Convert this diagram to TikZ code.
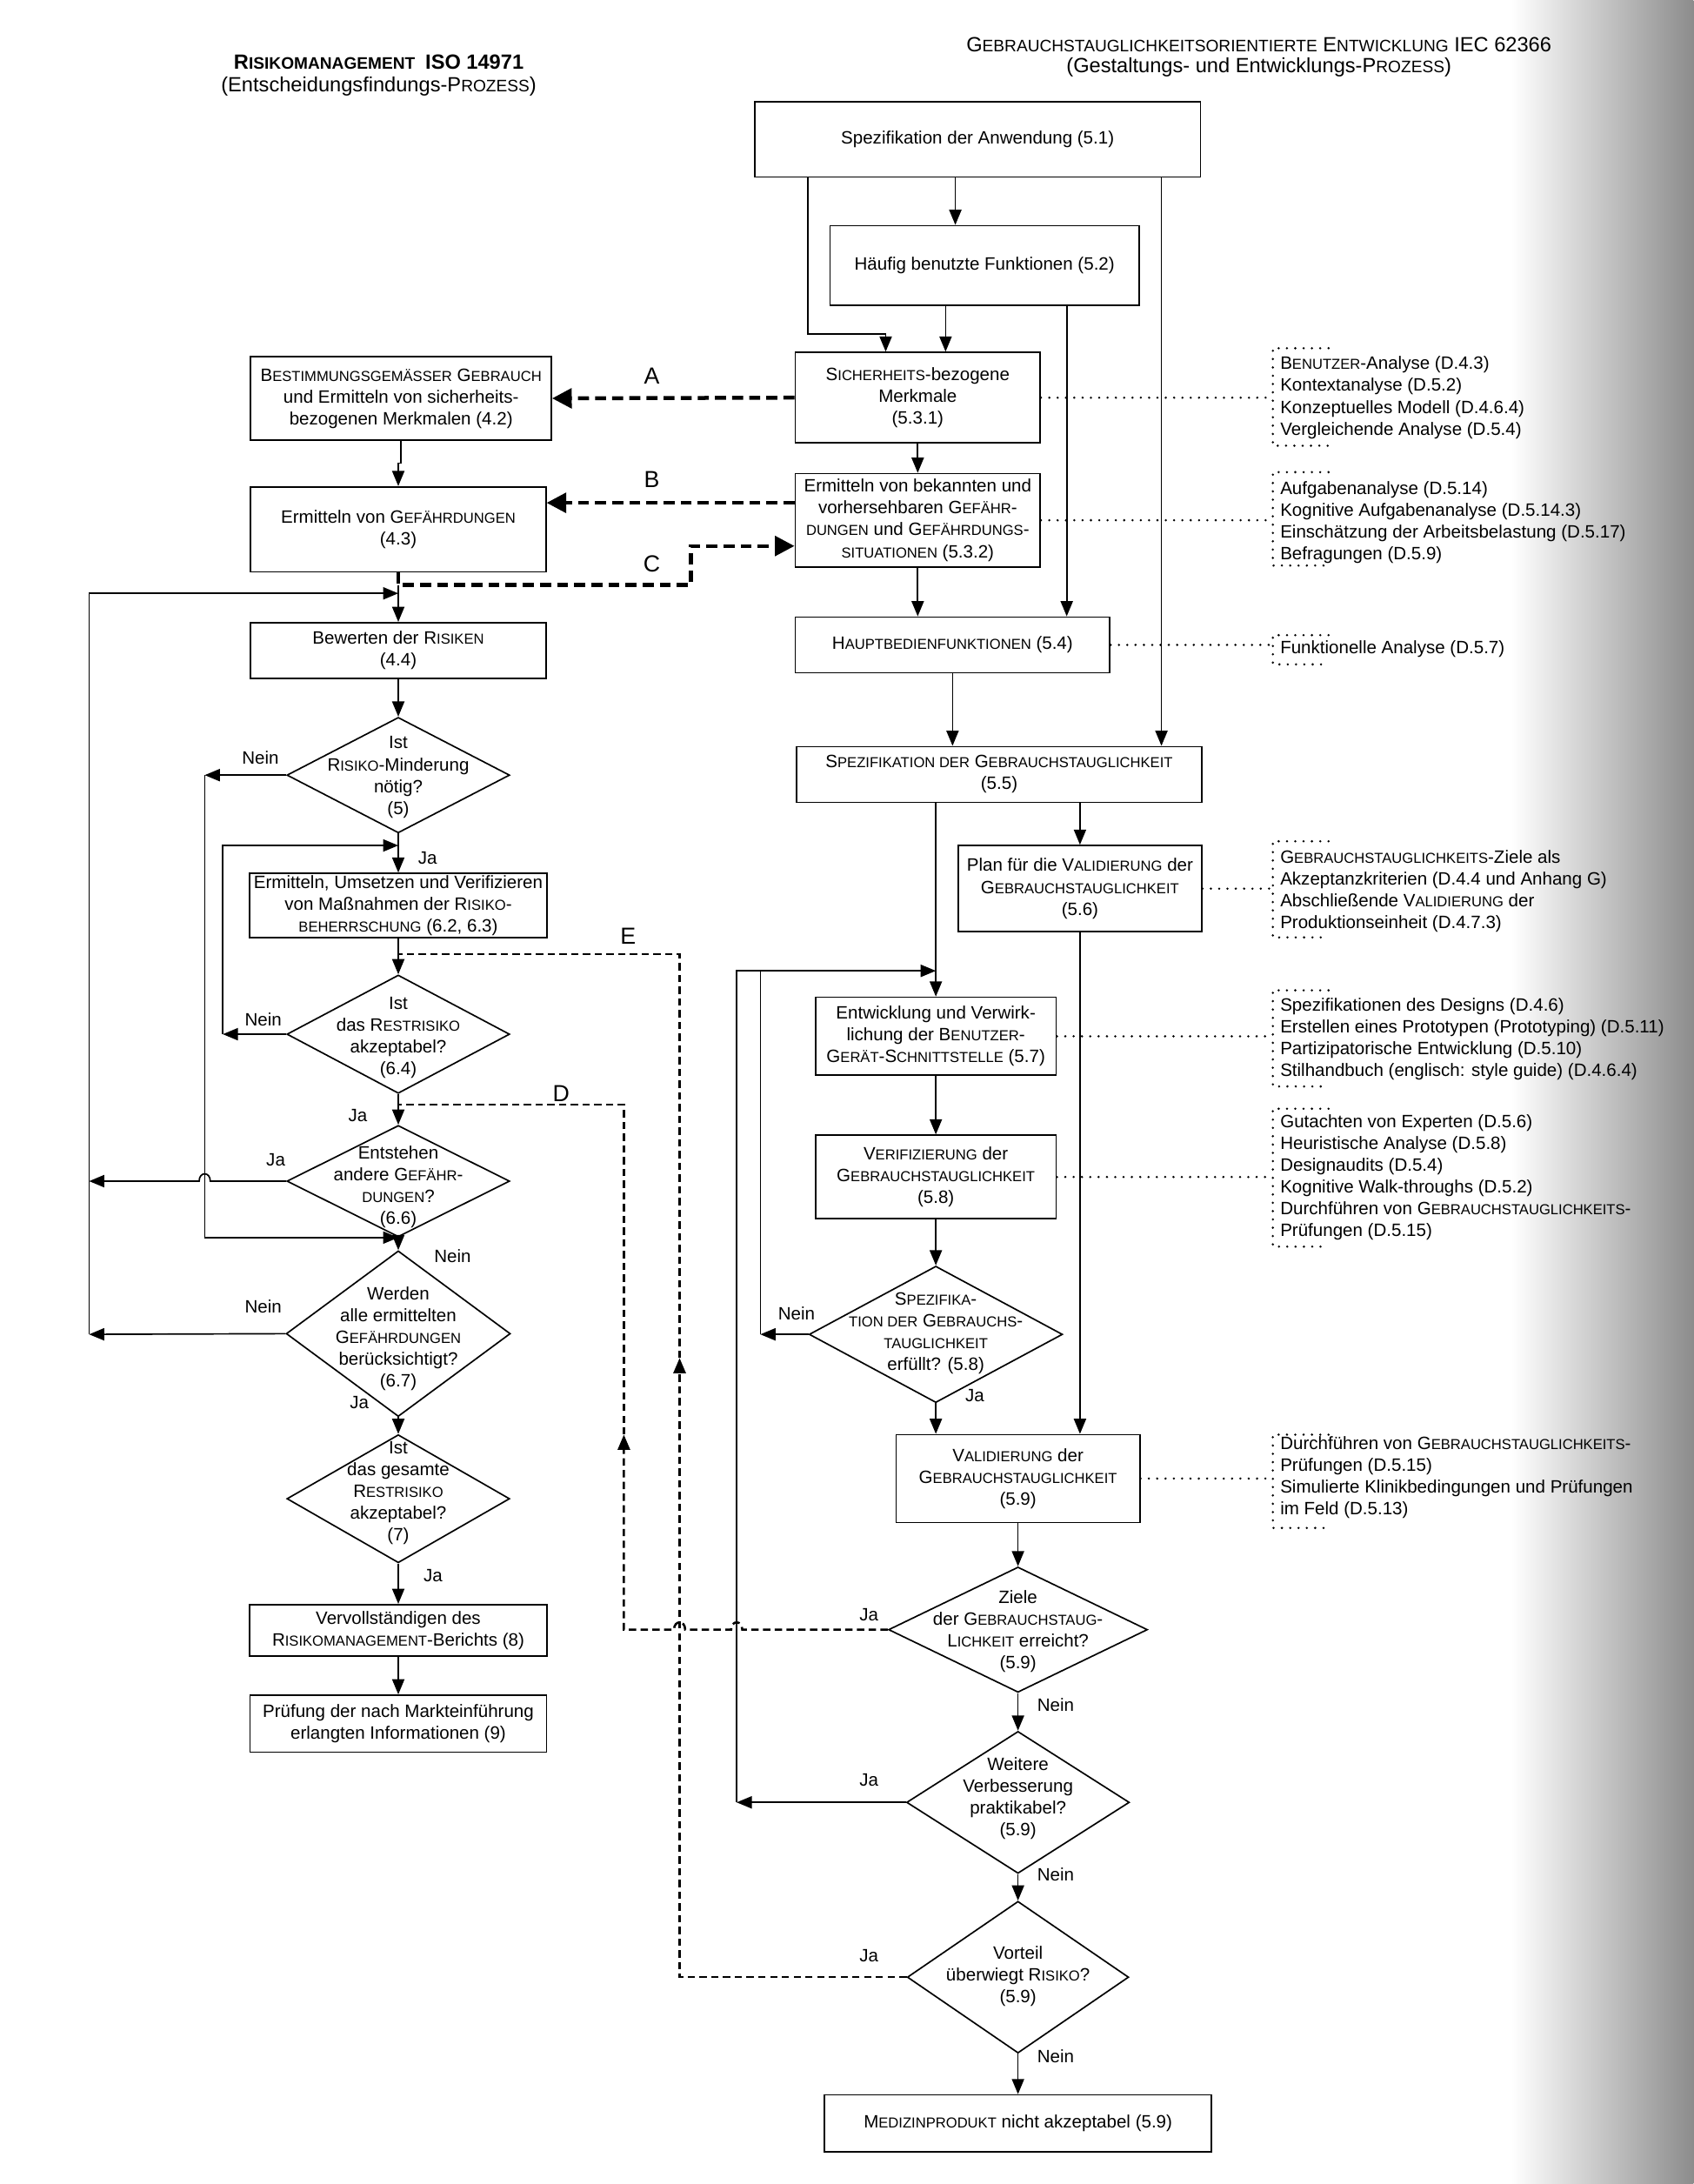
\documentclass[tikz,border=0pt]{standalone}
\usepackage{fontspec}
\setmainfont{Liberation Sans}
\usetikzlibrary{shapes.geometric,arrows.meta}
\newcommand\fs{\fontsize{7.3pt}{8.9pt}\selectfont}
\newcommand\kl[1]{{\fontsize{5.9pt}{8.9pt}\selectfont #1}}
\newcommand\klh[1]{{\fontsize{6.8pt}{9.2pt}\selectfont #1}}
\begin{document}
\begin{tikzpicture}[x=0.02cm,y=-0.02cm,
  box/.style={draw, line width=0.6pt, inner sep=0pt, align=center, font=\fs},
  dia/.style={draw, diamond, line width=0.6pt, inner sep=0pt},
  txt/.style={align=center, font=\fs, inner sep=0pt},
  lab/.style={font=\fs, inner sep=0pt},
  big/.style={font=\fontsize{9.5pt}{11pt}\selectfont, inner sep=0pt},
  note/.style={align=left, font=\fs, inner sep=0pt, anchor=west},
  arr/.style={line width=0.6pt, -{Triangle[length=6.2pt,width=5pt]}},
  ln/.style={line width=0.6pt},
  tdash/.style={line width=1.6pt, dash pattern=on 4.5pt off 2.5pt, -{Triangle[length=8pt,width=8pt]}},
  ddash/.style={line width=0.9pt, dash pattern=on 3pt off 1.8pt},
  dtip/.style={-{Triangle[length=6.2pt,width=5pt]}},
  dott/.style={line width=1pt, dash pattern=on 0pt off 3.4pt, line cap=round}
]
\useasboundingbox (0,0) rectangle (1216,1568);
\shade[left color=white,right color=black!45] (1085,0) rectangle (1216,1568);

% headers
\node[font=\fontsize{8.4pt}{9.2pt}\selectfont, align=center, inner sep=0pt] (hl) at (272,54)
  {\textbf{R\klh{ISIKOMANAGEMENT}\enspace ISO 14971}\\(Entscheidungsfindungs-P\klh{ROZESS})};
\node[font=\fontsize{8.4pt}{8.6pt}\selectfont, align=center, inner sep=0pt] (hr) at (904,41)
  {G\klh{EBRAUCHSTAUGLICHKEITSORIENTIERTE} E\klh{NTWICKLUNG} IEC 62366\\(Gestaltungs- und Entwicklungs-P\klh{ROZESS})};

% right column
\node[box, minimum width=6.4cm, minimum height=1.08cm] (r1) at (702,100) {Spezifikation der Anwendung (5.1)};
\node[box, minimum width=4.44cm, minimum height=1.14cm] (r2) at (707,190.5) {Häufig benutzte Funktionen (5.2)};
\node[box, minimum width=3.52cm, minimum height=1.3cm] (r3) at (659,285.5) {S\kl{ICHERHEITS}-bezogene\\Merkmale\\(5.3.1)};
\node[box, minimum width=3.52cm, minimum height=1.34cm] (r4) at (659,373.5) {Ermitteln von bekannten und\\vorhersehbaren G\kl{EFÄHR}-\\\kl{DUNGEN} und G\kl{EFÄHRDUNGS}-\\\kl{SITUATIONEN} (5.3.2)};
\node[box, minimum width=4.52cm, minimum height=0.8cm] (r5) at (684,463) {H\kl{AUPTBEDIENFUNKTIONEN} (5.4)};
\node[box, minimum width=5.82cm, minimum height=0.8cm] (r6) at (717.5,556) {S\kl{PEZIFIKATION DER} G\kl{EBRAUCHSTAUGLICHKEIT}\\(5.5)};
\node[box, minimum width=3.5cm, minimum height=1.24cm] (r7) at (775.5,638) {Plan für die V\kl{ALIDIERUNG} der\\G\kl{EBRAUCHSTAUGLICHKEIT}\\(5.6)};
\node[box, minimum width=3.46cm, minimum height=1.12cm] (r8) at (672,744) {Entwicklung und Verwirk-\\lichung der B\kl{ENUTZER}-\\G\kl{ERÄT}-S\kl{CHNITTSTELLE} (5.7)};
\node[box, minimum width=3.46cm, minimum height=1.2cm] (r9) at (672,845) {V\kl{ERIFIZIERUNG} der\\G\kl{EBRAUCHSTAUGLICHKEIT}\\(5.8)};
\node[dia, minimum width=3.64cm, minimum height=1.96cm] (r10) at (672,958) {};
\node[txt] (r10t) at (672,957) {S\kl{PEZIFIKA}-\\\kl{TION DER} G\kl{EBRAUCHS}-\\\kl{TAUGLICHKEIT}\\erfüllt? (5.8)};
\node[box, minimum width=3.5cm, minimum height=1.26cm] (r11) at (731,1061.5) {V\kl{ALIDIERUNG} der\\G\kl{EBRAUCHSTAUGLICHKEIT}\\(5.9)};
\node[dia, minimum width=3.72cm, minimum height=1.8cm] (r12) at (731,1170) {};
\node[txt] (r12t) at (731,1171) {Ziele\\der G\kl{EBRAUCHSTAUG}-\\L\kl{ICHKEIT} erreicht?\\(5.9)};
\node[dia, minimum width=3.2cm, minimum height=2.04cm] (r13) at (731,1294) {};
\node[txt] (r13t) at (731,1291) {Weitere\\Verbesserung\\praktikabel?\\(5.9)};
\node[dia, minimum width=3.18cm, minimum height=2.18cm] (r14) at (731,1419.5) {};
\node[txt] (r14t) at (731,1419) {Vorteil\\überwiegt R\kl{ISIKO}?\\(5.9)};
\node[box, minimum width=5.56cm, minimum height=0.82cm] (r15) at (731,1524.5) {M\kl{EDIZINPRODUKT} nicht akzeptabel (5.9)};

% left column
\node[box, minimum width=4.32cm, minimum height=1.2cm] (l1) at (288,286) {B\kl{ESTIMMUNGSGEMÄSSER} G\kl{EBRAUCH}\\und Ermitteln von sicherheits-\\bezogenen Merkmalen (4.2)};
\node[box, minimum width=4.24cm, minimum height=1.22cm] (l2) at (286,380) {Ermitteln von G\kl{EFÄHRDUNGEN}\\(4.3)};
\node[box, minimum width=4.24cm, minimum height=0.8cm] (l3) at (286,467) {Bewerten der R\kl{ISIKEN}\\(4.4)};
\node[dia, minimum width=3.2cm, minimum height=1.66cm] (l4) at (286,556.5) {};
\node[txt] (l4t) at (286,558) {Ist\\R\kl{ISIKO}-Minderung\\nötig?\\(5)};
\node[box, minimum width=4.28cm, minimum height=0.92cm] (l5) at (286,650) {Ermitteln, Umsetzen und Verifizieren\\von Maßnahmen der R\kl{ISIKO}-\\\kl{BEHERRSCHUNG} (6.2, 6.3)};
\node[dia, minimum width=3.2cm, minimum height=1.7cm] (l6) at (286,742.5) {};
\node[txt] (l6t) at (286,745) {Ist\\das R\kl{ESTRISIKO}\\akzeptabel?\\(6.4)};
\node[dia, minimum width=3.2cm, minimum height=1.6cm] (l7) at (286,848) {};
\node[txt] (l7t) at (286,852) {Entstehen\\andere G\kl{EFÄHR}-\\\kl{DUNGEN}?\\(6.6)};
\node[dia, minimum width=3.22cm, minimum height=2.38cm] (l8) at (286,957.5) {};
\node[txt] (l8t) at (286,961) {Werden\\alle ermittelten\\G\kl{EFÄHRDUNGEN}\\berücksichtigt?\\(6.7)};
\node[dia, minimum width=3.2cm, minimum height=1.84cm] (l9) at (286,1076) {};
\node[txt] (l9t) at (286,1072) {Ist\\das gesamte\\R\kl{ESTRISIKO}\\akzeptabel?\\(7)};
\node[box, minimum width=4.28cm, minimum height=0.74cm] (l10) at (286,1170.5) {Vervollständigen des\\R\kl{ISIKOMANAGEMENT}-Berichts (8)};
\node[box, minimum width=4.26cm, minimum height=0.82cm] (l11) at (286,1237.5) {Prüfung der nach Markteinführung\\erlangten Informationen (9)};

% right connectors
\coordinate (xa) at (686,0);
\draw[arr] (r1.south -| xa) -- (r2.north -| xa);
\coordinate (xb) at (580,240);
\coordinate (xc) at (636,240);
\draw[arr] (r1.south -| xb) -- (xb) -- (xc) -- (r3.north -| xc);
\coordinate (xd) at (679,0);
\draw[arr] (r2.south -| xd) -- (r3.north -| xd);
\coordinate (xe) at (766,0);
\draw[arr] (r2.south -| xe) -- (r5.north -| xe);
\coordinate (xf) at (834,0);
\draw[arr] (r1.south -| xf) -- (r6.north -| xf);
\draw[arr] (r3.south) -- (r4.north);
\draw[arr] (r4.south) -- (r5.north -| r4.south);
\draw[arr] (r5.south) -- (r6.north -| r5.south);
\draw[arr] (r6.south -| r7.north) -- (r7.north);
\draw[arr] (r6.south -| r8.north) -- (r8.north);
\draw[arr] (r7.south) -- (r11.north -| r7.south);
\draw[arr] (r8.south) -- (r9.north);
\draw[arr] (r9.south) -- (r10.north);
\draw[arr] (r10.south) -- (r11.north -| r10.south);
\draw[arr] (r11.south) -- (r12.north);
\draw[arr] (r12.south) -- (r13.north);
\draw[arr] (r13.south) -- (r14.north);
\draw[arr] (r14.south) -- (r15.north);
\coordinate (j1) at (672,697);
\coordinate (i1) at (546,958);
\coordinate (o1) at (529,1294);
\draw[arr] (r10.west) -- (i1);
\draw[ln] (i1) -- (i1 |- j1);
\draw[arr] (r13.west) -- (o1);
\draw[arr] (o1) |- (j1);

% left connectors
\draw[arr] (l1.south) -- ++(0,16) -| (l2.north);
\coordinate (cj) at (286,420);
\coordinate (cu) at (496,392);
\draw[arr] (cj) -- (l3.north);
\coordinate (ol) at (64,958);
\coordinate (kj) at (286,426);
\draw[arr] (l8.west) -- (ol);
\draw[arr] (ol) |- (kj);
\coordinate (ol2) at (64,848);
\draw[arr] (l7.west) -- (151,848) .. controls (151,841) and (143,841) .. (143,848) -- (ol2);
\draw[arr] (l3.south) -- (l4.north);
\coordinate (i2) at (147,556.5);
\draw[arr] (l4.west) -- (i2);
\draw[arr] (i2) |- (l7.south);
\draw[arr] (l4.south) -- (l5.north);
\coordinate (i3) at (160,742.5);
\coordinate (j2) at (286,607);
\draw[arr] (l6.west) -- (i3);
\draw[arr] (i3) |- (j2);
\draw[arr] (l5.south) -- (l6.north);
\draw[arr] (l6.south) -- (l7.north);
\draw[arr] (l7.south) -- (l8.north);
\draw[arr] (l8.south) -- (l9.north);
\draw[arr] (l9.south) -- (l10.north);
\draw[arr] (l10.south) -- (l11.north);

% thick dashed A B C
\draw[tdash] (r3.west) -- (l1.east);
\draw[tdash] ([yshift=0.25cm]r4.west) -- ([yshift=0.25cm]r4.west -| l2.east);
\draw[tdash] (l2.south) -- (cj) -| (cu) -- (cu -| r4.west);
\node[big] (la) at (468,270) {A};
\node[big] (lb) at (468,344) {B};
\node[big] (lc) at (468,405) {C};

% dashed D and E
\coordinate (dA) at (448,1170);
\coordinate (dB) at (448,1030);
\coordinate (dC) at (448,793);
\draw[ddash,dtip] (r12.west) -- (533,1170) .. controls (533,1163) and (525,1163) .. (525,1170)
   -- (492,1170) .. controls (492,1163) and (484,1163) .. (484,1170) -- (dA) -- (dB);
\draw[ddash] (dB) -- (dC) -- (l7.north |- dC);
\coordinate (eA) at (488,1419.5);
\coordinate (eB) at (488,975);
\coordinate (eC) at (488,685);
\draw[ddash,dtip] (r14.west) -- (eA) -- (eB);
\draw[ddash] (eB) -- (eC) -- (l5.south |- eC);
\node[big] (ld) at (403,785) {D};
\node[big] (le) at (451,672) {E};

% Ja / Nein labels
\node[lab] (t1) at (187,544) {Nein};
\node[lab] (t2) at (307,616) {Ja};
\node[lab] (t3) at (189,732) {Nein};
\node[lab] (t4) at (257,801) {Ja};
\node[lab] (t5) at (198,833) {Ja};
\node[lab] (t6) at (325,902) {Nein};
\node[lab] (t7) at (189,938) {Nein};
\node[lab] (t8) at (258,1007) {Ja};
\node[lab] (t9) at (311,1131) {Ja};
\node[lab] (t10) at (572,943) {Nein};
\node[lab] (t11) at (700,1002) {Ja};
\node[lab] (t12) at (624,1159) {Ja};
\node[lab] (t13) at (758,1224) {Nein};
\node[lab] (t14) at (624,1278) {Ja};
\node[lab] (t15) at (758,1346) {Nein};
\node[lab] (t16) at (624,1404) {Ja};
\node[lab] (t17) at (758,1476) {Nein};

% annotations
\coordinate (bx) at (914,0);
\draw[dott] (r3.east) -- (r3.east -| bx);
\draw[dott] (r4.east) -- (r4.east -| bx);
\draw[dott] (r5.east) -- (r5.east -| bx);
\draw[dott] (r7.east) -- (r7.east -| bx);
\draw[dott] (r8.east) -- (r8.east -| bx);
\draw[dott] (r9.east) -- (r9.east -| bx);
\draw[dott] (r11.east) -- (r11.east -| bx);
\draw[dott] (954,250) -- (914,250) -- (914,320) -- (954,320);
\draw[dott] (954,339) -- (914,339) -- (914,406) -- (954,406);
\draw[dott] (954,456) -- (914,456) -- (914,477) -- (954,477);
\draw[dott] (954,604) -- (914,604) -- (914,673) -- (954,673);
\draw[dott] (954,711) -- (914,711) -- (914,780) -- (954,780);
\draw[dott] (954,796) -- (914,796) -- (914,895) -- (954,895);
\draw[dott] (954,1030) -- (914,1030) -- (914,1097) -- (954,1097);
\node[note] (n1) at (919,285.5) {B\kl{ENUTZER}-Analyse (D.4.3)\\Kontextanalyse (D.5.2)\\Konzeptuelles Modell (D.4.6.4)\\Vergleichende Analyse (D.5.4)};
\node[note] (n2) at (919,375) {Aufgabenanalyse (D.5.14)\\Kognitive Aufgabenanalyse (D.5.14.3)\\Einschätzung der Arbeitsbelastung (D.5.17)\\Befragungen (D.5.9)};
\node[note] (n3) at (919,466) {Funktionelle Analyse (D.5.7)};
\node[note] (n4) at (919,640) {G\kl{EBRAUCHSTAUGLICHKEITS}-Ziele als\\Akzeptanzkriterien (D.4.4 und Anhang G)\\Abschließende V\kl{ALIDIERUNG} der\\Produktionseinheit (D.4.7.3)};
\node[note] (n5) at (919,746) {Spezifikationen des Designs (D.4.6)\\Erstellen eines Prototypen (Prototyping) (D.5.11)\\Partizipatorische Entwicklung (D.5.10)\\Stilhandbuch (englisch: style guide) (D.4.6.4)};
\node[note] (n6) at (919,845.5) {Gutachten von Experten (D.5.6)\\Heuristische Analyse (D.5.8)\\Designaudits (D.5.4)\\Kognitive Walk-throughs (D.5.2)\\Durchführen von G\kl{EBRAUCHSTAUGLICHKEITS}-\\Prüfungen (D.5.15)};
\node[note] (n7) at (919,1061) {Durchführen von G\kl{EBRAUCHSTAUGLICHKEITS}-\\Prüfungen (D.5.15)\\Simulierte Klinikbedingungen und Prüfungen\\im Feld (D.5.13)};
\end{tikzpicture}
\end{document}
